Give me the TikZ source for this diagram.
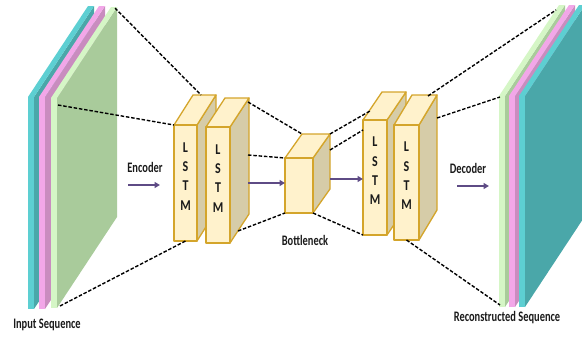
\documentclass[tikz,border=0pt]{standalone}
\usepackage{fontspec}
\newfontfamily\labfont[FakeStretch=0.8]{Carlito}
\newfontfamily\capfont[FakeStretch=0.72]{Carlito}
\usetikzlibrary{arrows.meta,calc}
\definecolor{cyanF}{HTML}{5DCFD2}
\definecolor{cyanS}{HTML}{4AA7A9}
\definecolor{pinkF}{HTML}{F2A7E8}
\definecolor{pinkS}{HTML}{C98CBF}
\definecolor{greenF}{HTML}{D5F6C6}
\definecolor{greenS}{HTML}{A9CB9B}
\definecolor{boxF}{HTML}{FFF2CC}
\definecolor{boxS}{HTML}{D6CCA8}
\definecolor{boxE}{HTML}{D4A52B}
\definecolor{arr}{HTML}{5E4B85}
\definecolor{txt}{HTML}{1A1A1A}
% slab: x, ytop, ybot, front colour, side colour
\newcommand\slab[5]{%
  \fill[#5] (#1+6,#2) -- ++(60,-91) -- (#1+66,#3-91) -- (#1+6,#3) -- cycle;
  \fill[#4] (#1,#2) -- ++(60,-91) -- ++(6,0) -- (#1+6,#2) -- cycle;
  \fill[#4] (#1,#2) rectangle (#1+6,#3);}
% cube: name, x, y, w, h, dx, dy, text
\newcommand\cube[8]{%
  \filldraw[cubeedge,fill=boxS] (#2+#4,#3) -- ++(#6,#7) -- ++(0,#5) -- (#2+#4,#3+#5) -- cycle;
  \filldraw[cubeedge,fill=boxF] (#2,#3) -- ++(#6,#7) -- ++(#4,0) -- (#2+#4,#3) -- cycle;
  \node[cubefront,minimum width=#4pt,minimum height=#5pt,anchor=north west] (#1) at (#2,#3) {#8};}
\begin{document}
\begin{tikzpicture}[x=1pt,y=-1pt,
  cubeedge/.style={draw=boxE,line width=1.3pt,line join=round},
  cubefront/.style={cubeedge,fill=boxF,rectangle,inner sep=0pt,outer sep=0pt,align=center,
     text=txt,font=\labfont\bfseries\fontsize{15}{19.3}\selectfont},
  lab/.style={text=txt,font=\capfont\bfseries\fontsize{14.5}{16}\selectfont,inner sep=0pt},
  flow/.style={draw=arr,line width=1.6pt,-{Triangle[length=5.5pt,width=6pt]}},
  dline/.style={black,line width=1.4pt,dash pattern=on 3.5pt off 1.8pt}]
\useasboundingbox (0,0) rectangle (582,338);
\clip (0,0) rectangle (582,338);
% input stack
\slab{28}{97}{309}{cyanF}{cyanS}
\slab{39}{97}{309}{pinkF}{pinkS}
\slab{51}{98}{308}{greenF}{greenS}
% output stack
\slab{499}{96}{307}{greenF}{greenS}
\slab{509}{96}{307}{pinkF}{pinkS}
\slab{519}{96}{307}{cyanF}{cyanS}
% cubes
\cube{b1}{174}{125}{23}{116}{19}{-30}{L\\S\\T\\M\\[-6pt]}
\cube{b2}{206}{127}{24}{116}{19}{-29}{L\\S\\T\\M\\[-6pt]}
\cube{bn}{285}{158}{28}{55}{17}{-24}{}
\cube{b3}{363}{120}{24}{115}{19}{-28}{L\\S\\T\\M\\[-6pt]}
\cube{b4}{394}{125}{25}{115}{18}{-30}{L\\S\\T\\M\\[-6pt]}
% labels
\node[lab] (inlab) at (47,325) {Input Sequence};
\node[lab] (outlab) at (507,318) {Reconstructed Sequence};
\node[lab] (enc) at (145,167) {Encoder};
\node[lab] (dec) at (468,168) {Decoder};
\node[lab] (bnl) at (305,240) {Bottleneck};
% coordinates
\coordinate (Lt) at (115,8);
\coordinate (Lm) at (58,105);
\coordinate (Lb) at (60,306);
\coordinate (b1t) at (201,95);
\coordinate (b2t) at (248,102);
\coordinate (b2m) at (248,155);
\coordinate (b2b) at (238,231);
\coordinate (bnt) at (302,134);
\coordinate (bntr) at (330,134);
\coordinate (bnm) at (330,150);
\coordinate (b3l) at (370,111);
\coordinate (b3w) at (363,130);
\coordinate (b4t) at (428,96);
\coordinate (b4m) at (437,118);
\coordinate (Rt) at (556,10);
\coordinate (Rm) at (500,97);
\coordinate (Rb) at (500,305);
\coordinate (e1) at (128,185);
\coordinate (e2) at (160,185);
\coordinate (b2r) at (248,183);
\coordinate (bnr) at (330,179);
\coordinate (d1) at (457,186);
\coordinate (d2) at (489,186);
% dashed connectors
\draw[dline] (Lt) -- (b1t);
\draw[dline] (Lm) -- (b1.north west);
\draw[dline] (Lb) -- (b1.south);
\draw[dline] (b2t) -- (bnt);
\draw[dline] (b2m) -- (bn.north west);
\draw[dline] (b2b) -- (bn.south west);
\draw[dline] (bntr) -- (b3l);
\draw[dline] (bnm) -- (b3w);
\draw[dline] (bn.south east) -- (b3.south west);
\draw[dline] (b4t) -- (Rt);
\draw[dline] (b4m) -- (Rm);
\draw[dline] (b4.south) -- (Rb);
% arrows
\draw[flow] (e1) -- (e2);
\draw[flow] (b2r) -- (b2r -| bn.west);
\draw[flow] (bnr) -- (bnr -| b3.west);
\draw[flow] (d1) -- (d2);
\end{tikzpicture}
\end{document}
